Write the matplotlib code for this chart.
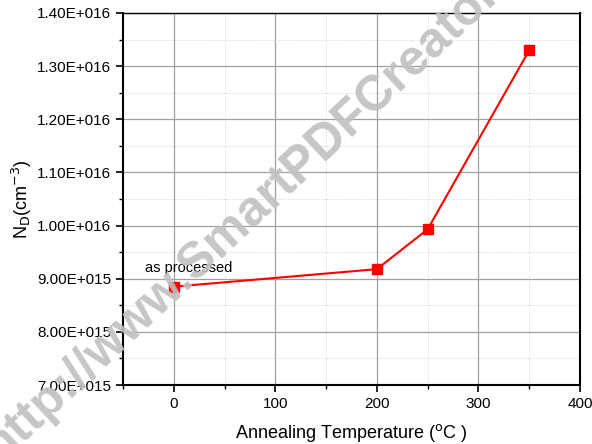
import matplotlib.pyplot as plt
from matplotlib.ticker import MultipleLocator, FuncFormatter

plt.rcParams['font.family'] = ['Liberation Sans', 'DejaVu Sans']

# data
temps = [0, 200, 250, 350]
nd = [8.85e15, 9.18e15, 9.93e15, 1.33e16]

def sci(v, pos):
    m, e = f"{v:.2E}".split("E")
    sign = e[0]
    return f"{m}E{sign}{int(e[1:]):03d}"

fig = plt.figure(figsize=(5.92, 4.44), dpi=100)
ax = fig.add_axes([123/592, 1-385/444, (580-123)/592, (385-13)/444])

ax.plot(temps, nd, color="#ff0000", lw=1.5, marker="s", ms=6.5, zorder=3)

ax.set_xlim(-50, 400)
ax.set_ylim(7e15, 1.4e16)
ax.xaxis.set_major_locator(MultipleLocator(100))
ax.xaxis.set_minor_locator(MultipleLocator(50))
ax.yaxis.set_major_locator(MultipleLocator(1e15))
ax.yaxis.set_minor_locator(MultipleLocator(5e14))
ax.yaxis.set_major_formatter(FuncFormatter(sci))
ax.yaxis.get_offset_text().set_visible(False)

ax.grid(True, which="major", color="#a0a0a0", lw=0.9)
ax.grid(True, which="minor", color="#d0d0d0", lw=0.7, ls=":")
ax.set_axisbelow(True)

ax.tick_params(which="major", direction="out", length=5, width=1.2, labelsize=11, top=False, right=False)
ax.tick_params(which="minor", direction="out", length=3, width=1.0, top=False, right=False)
for s in ["left", "bottom", "right"]:
    ax.spines[s].set_linewidth(1.5)
ax.spines["top"].set_linewidth(1.0)

ax.set_xlabel("Annealing Temperature ($^{\\rm o}$C )", fontsize=13, labelpad=8)
ax.set_ylabel("N$_{\\rm D}$(cm$^{-3}$)", fontsize=13, labelpad=2)

ax.text(-28, 9.12e15, "as processed", fontsize=10.5)

# watermark
fig.text(0.48, 0.595, "http://www.SmartPDFCreator.com", fontsize=36, fontweight="bold",
         color="#c0c0c0", alpha=0.9, rotation=43, ha="center", va="center", zorder=10)

fig.savefig("out.png", dpi=100)
